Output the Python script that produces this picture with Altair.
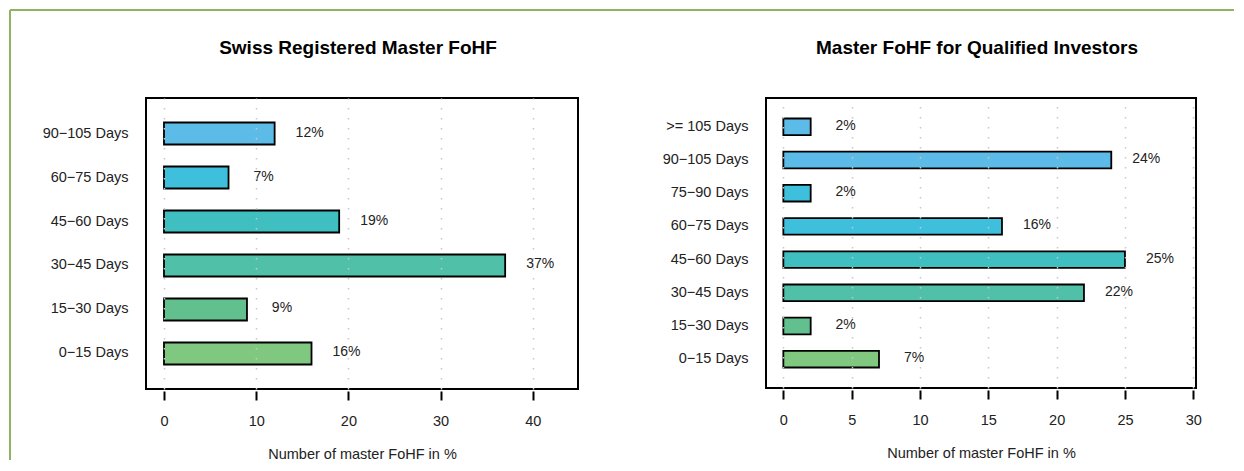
import altair as alt
import pandas as pd

FONT = "Liberation Sans"

# Left panel data
left_title = "Swiss Registered Master FoHF"
left_cats = ["90−105 Days", "60−75 Days", "45−60 Days", "30−45 Days", "15−30 Days", "0−15 Days"]
left_vals = [12, 7, 19, 37, 9, 16]
left_colors = ["#5dbbe8", "#3ebfdc", "#3fbfc0", "#50c0a9", "#62c08f", "#80c87f"]
left_ticks = [0, 10, 20, 30, 40]

# Right panel data
right_title = "Master FoHF for Qualified Investors"
right_cats = [">= 105 Days", "90−105 Days", "75−90 Days", "60−75 Days",
              "45−60 Days", "30−45 Days", "15−30 Days", "0−15 Days"]
right_vals = [2, 24, 2, 16, 25, 22, 2, 7]
right_colors = ["#5dbbe8", "#3fbfdc", "#3cc0cf", "#3dbfbf", "#4bbfac", "#5ac1a0", "#66c290", "#80c87f"]
right_ticks = [0, 5, 10, 15, 20, 25, 30]

x_title = "Number of master FoHF in %"


def panel(title, cats, vals, colors, ticks, domain, width, height, pad_outer, title_dx, title_offset, border=False):
    df = pd.DataFrame({"cat": cats, "val": vals, "label": [f"{v}%" for v in vals]})
    x = alt.X(
        "val:Q",
        scale=alt.Scale(domain=domain, nice=False, zero=False),
        axis=alt.Axis(
            values=ticks, title=x_title, grid=True, gridDash=[1.5, 8.5], gridColor="#c8c8c8",
            gridWidth=1.5, domain=False, tickSize=9, tickWidth=2, tickColor="black", offset=2,
            labelPadding=14, titlePadding=20, zindex=1, labelFontSize=14.5, titleFontSize=14.5,
            titleFontWeight="normal", labelColor="#222", titleColor="#222", labelFont=FONT, titleFont=FONT,
        ),
    )
    y = alt.Y(
        "cat:N", sort=cats,
        scale=alt.Scale(paddingInner=0.5, paddingOuter=pad_outer),
        axis=alt.Axis(title=None, ticks=False, domain=False, grid=False, labelPadding=18,
                      labelFontSize=14.5, labelColor="#222", labelFont=FONT),
    )
    base = alt.Chart(df)
    bars = base.mark_bar(stroke="black", strokeWidth=1.8).encode(
        x=x, x2=alt.datum(0), y=y,
        color=alt.Color("cat:N", scale=alt.Scale(domain=cats, range=colors), legend=None),
    )
    text = base.mark_text(align="center", baseline="middle", dx=35, dy=-1, fontSize=14,
                          color="#222", font=FONT).encode(x="val:Q", y=alt.Y("cat:N", sort=cats), text="label:N")
    layers = []
    if border:
        one = alt.Chart(pd.DataFrame({"k": [0]}))
        vrule = one.mark_rule(color="#8db363", strokeWidth=2).encode(
            x=alt.value(-136), y=alt.value(-88), y2=alt.value(362))
        hrule = one.mark_rule(color="#8db363", strokeWidth=2).encode(
            x=alt.value(-136), x2=alt.value(1088), y=alt.value(-88))
        layers += [vrule, hrule]
    layers += [bars, text]
    return alt.layer(*layers).properties(
        width=width, height=height,
        title=alt.Title(title, fontSize=19, font=FONT, fontWeight="bold", anchor="middle",
                        frame="group", dx=title_dx, offset=title_offset, baseline="alphabetic", color="black"),
    )


left = panel(left_title, left_cats, left_vals, left_colors, left_ticks, [-1.95, 44.9], 432, 291, 0.557, -4, -64, border=True)
right = panel(right_title, right_cats, right_vals, right_colors, right_ticks, [-1.27, 30.2], 430, 290, 0.617, -4, 25)

chart = alt.hconcat(left, right, spacing=188, bounds="flush").properties(
    padding=0, background="white"
).configure(font=FONT).configure_view(stroke="black", strokeWidth=2)

chart.save("out.html", embed_options={"renderer": "svg", "actions": False})
